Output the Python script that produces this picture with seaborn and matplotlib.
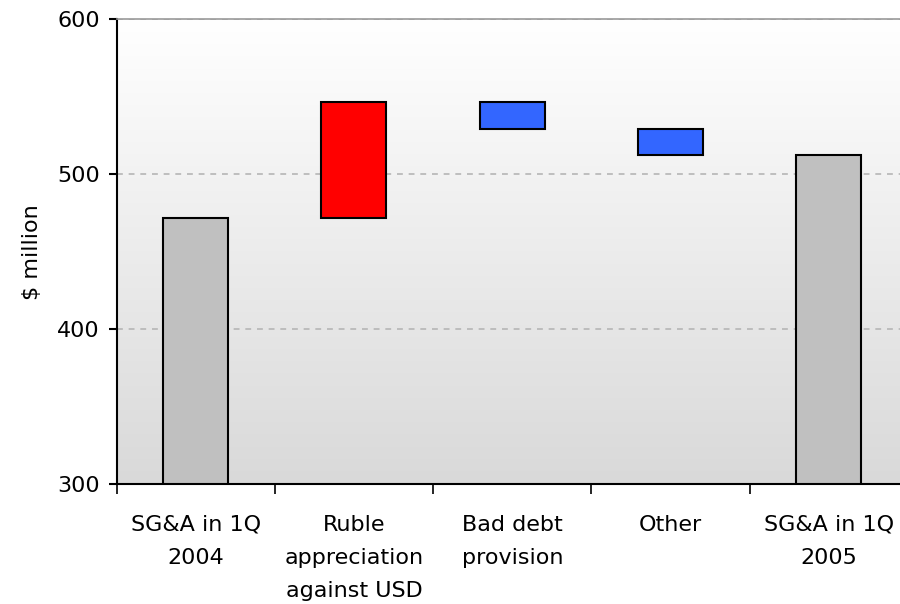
import numpy as np
import pandas as pd
import matplotlib
matplotlib.use("Agg")
import matplotlib.pyplot as plt
from matplotlib.colors import LinearSegmentedColormap
import seaborn as sns

categories = ["SG&A in 1Q\n2004", "Ruble\nappreciation\nagainst USD",
              "Bad debt\nprovision", "Other", "SG&A in 1Q\n2005"]
start_value = 471.5
changes = [75.0, -17.0, -17.0]
end_value = 512.5
bar_colors = ["#C0C0C0", "#FF0000", "#3366FF", "#3366FF", "#C0C0C0"]
y_ticks = [300, 400, 500, 600]

# waterfall geometry from the values
bottoms = [0.0]
heights = [start_value]
level = start_value
for c in changes:
    new = level + c
    bottoms.append(min(level, new))
    heights.append(abs(c))
    level = new
bottoms.append(0.0)
heights.append(end_value)

df = pd.DataFrame({"cat": categories, "h": heights})

sns.set_style("white")
plt.rcParams["font.family"] = ["DejaVu Sans"]
plt.rcParams["text.color"] = "black"
plt.rcParams["axes.labelcolor"] = "black"
plt.rcParams["xtick.color"] = "black"
plt.rcParams["ytick.color"] = "black"

fig = plt.figure(figsize=(9, 6.04), dpi=100)
ax = fig.add_axes([116.5 / 900, 119.7 / 604, 791.5 / 900, 465 / 604])

# gradient background (white at top, grey at bottom)
grad = np.linspace(0, 1, 256).reshape(-1, 1)
cmap = LinearSegmentedColormap.from_list("bg", ["#FFFFFF", "#D9D9D9"])
ax.imshow(grad, aspect="auto", cmap=cmap, extent=[-0.5, 4.5, 300, 600],
          origin="upper", zorder=0, interpolation="bilinear")

sns.barplot(data=df, x="cat", y="h", hue="cat", palette=bar_colors,
            order=categories, hue_order=categories, width=0.41,
            edgecolor="black", linewidth=1.5, legend=False, ax=ax,
            saturation=1, zorder=3)

for patch, b, h in zip(ax.patches, bottoms, heights):
    patch.set_y(b)
    patch.set_height(h)

ax.set_xlim(-0.5, 4.5)
ax.set_ylim(300, 600)
ax.set_yticks(y_ticks)
ax.set_yticklabels([str(t) for t in y_ticks])

for t in [400, 500, 600]:
    ax.axhline(t, color="#B5B5B5", lw=1.2, ls=(0, (3.5, 3.5)), zorder=1)

ax.set_xticks(range(len(categories)))
ax.set_xticklabels(categories, linespacing=1.82)
ax.set_xticks(np.arange(-0.5, 4.5, 1.0), minor=True)
ax.tick_params(axis="x", which="major", length=0, pad=22, labelsize=16)
ax.tick_params(axis="x", which="minor", length=7, width=1.2, color="black",
               direction="out", bottom=True)
ax.tick_params(axis="y", length=6, width=1.5, color="black", direction="out",
               left=True, pad=6, labelsize=16)

ax.set_xlabel("")
ax.set_ylabel("$ million", fontsize=16, labelpad=11)

for s in ["left", "bottom"]:
    ax.spines[s].set_color("black")
    ax.spines[s].set_linewidth(1.5)
ax.spines["top"].set_color("#9A9A9A")
ax.spines["top"].set_linewidth(1.2)
ax.spines["right"].set_visible(False)
for s in ax.spines.values():
    s.set_zorder(5)

fig.savefig("out.png", dpi=100)
